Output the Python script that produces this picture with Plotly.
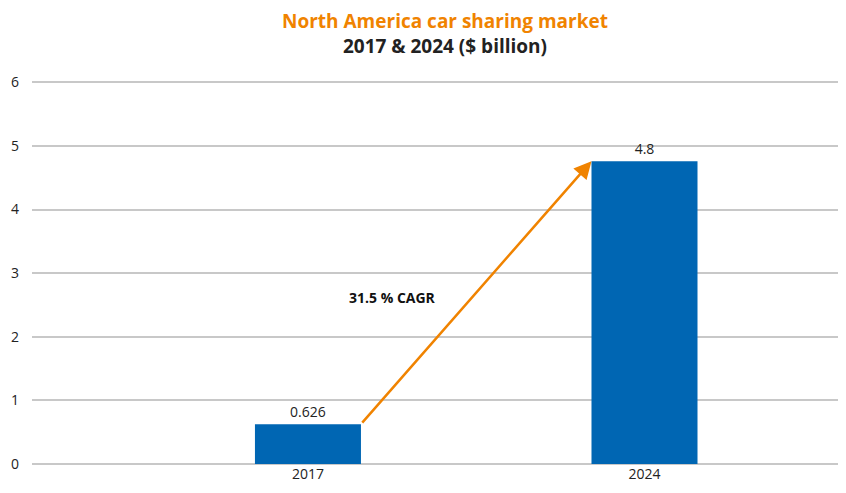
import plotly.graph_objects as go

years = ["2017", "2024"]
values = [0.626, 4.76]
labels = ["0.626", "4.8"]
cagr_text = "31.5 % CAGR"
title = "North America car sharing market"
subtitle = "2017 & 2024 ($ billion)"

FONT = "Open Sans, sans-serif"

fig = go.Figure()
fig.add_trace(go.Bar(
    x=[0, 1], y=values, width=0.315,
    marker=dict(color="#0066B3", line=dict(width=0)),
    text=labels, textposition="outside", cliponaxis=False,
    textfont=dict(family=FONT, size=14, color="#222"),
))

bw = 0.315 / 2
fig.add_annotation(
    x=1 - bw, y=values[1], ax=0 + bw, ay=values[0],
    xref="x", yref="y", axref="x", ayref="y",
    showarrow=True, arrowhead=2, arrowsize=1.4, arrowwidth=2.5,
    arrowcolor="#F08300", text="", standoff=0,
)
fig.add_annotation(
    x=0.25, y=2.62, xref="x", yref="y", text="<b>" + cagr_text + "</b>",
    showarrow=False, font=dict(family=FONT, size=14, color="#111"),
)
fig.add_annotation(
    x=0.512, y=1, xref="paper", yref="paper", yshift=48, xanchor="center", yanchor="middle",
    text="<span style='color:#F08300'><b>" + title + "</b></span><br><b>" + subtitle + "</b>",
    showarrow=False, borderpad=0, align="center",
    font=dict(family=FONT, size=19, color="#222"),
)

fig.update_layout(
    width=830, height=476,
    margin=dict(l=24, r=0, t=73, b=20, autoexpand=False),
    plot_bgcolor="white", paper_bgcolor="white",
    showlegend=False,
    xaxis=dict(range=[-0.820, 1.575], tickmode="array", tickvals=[0, 1], ticktext=years,
               showgrid=False, zeroline=False, showline=False,
               tickfont=dict(family=FONT, size=14, color="#222")),
    yaxis=dict(range=[0, 6.02], tickmode="array", tickvals=[0, 1, 2, 3, 4, 5, 6],
               showgrid=True, gridcolor="#C8C8C8", gridwidth=1.5,
               zeroline=True, zerolinecolor="#C8C8C8", zerolinewidth=1.5, showline=False,
               ticks="", ticklabelstandoff=12,
               tickfont=dict(family=FONT, size=14, color="#222")),
)
fig.write_html("out.html")
